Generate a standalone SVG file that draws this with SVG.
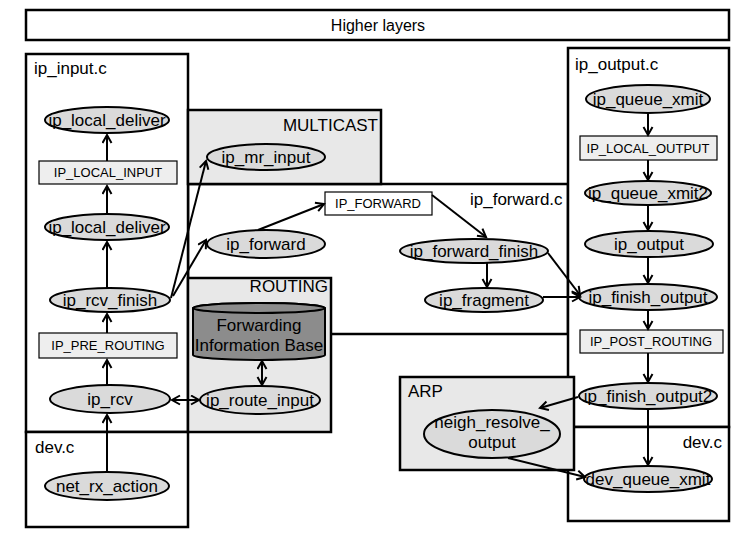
<svg xmlns="http://www.w3.org/2000/svg" width="756" height="534" viewBox="0 0 756 534">
<defs>
<marker id="arr" markerUnits="userSpaceOnUse" markerWidth="12" markerHeight="12" refX="9" refY="5.5" orient="auto-start-reverse">
<path d="M1,1 L9,5.5 L1,10" fill="none" stroke="#000" stroke-width="2"/>
</marker>
</defs>
<style>
text{font-family:"Liberation Sans",Arial,sans-serif;fill:#000}
.box{fill:#fff;stroke:#000;stroke-width:2.5}
.gbox{fill:#e8e8e8;stroke:#000;stroke-width:2.5}
.node ellipse{fill:#dadada;stroke:#000;stroke-width:2}
.node text{font-size:17px;text-anchor:middle}
.hook rect{fill:#eeeeee;stroke:#000;stroke-width:1.2}
.hook text{font-size:13px;text-anchor:middle}
.lbl{font-size:17px}
.edges path{fill:none;stroke:#000;stroke-width:2;marker-end:url(#arr)}
.edges path.both{marker-start:url(#arr)}
</style>
<g id="higher-layers">
<rect class="box" x="26" y="10" width="703" height="30"/>
<text x="378" y="31" font-size="16" text-anchor="middle">Higher layers</text>
</g>
<g id="ip_forward_c">
<rect class="box" x="188" y="184" width="380" height="150"/>
<text class="lbl" x="470" y="205">ip_forward.c</text>
</g>
<g id="ip_input_c">
<rect class="box" x="26" y="54" width="162" height="378"/>
<text class="lbl" x="34" y="74">ip_input.c</text>
</g>
<g id="dev_c_left">
<rect class="box" x="26" y="432" width="162" height="95"/>
<text class="lbl" x="35" y="453">dev.c</text>
</g>
<g id="multicast">
<rect class="gbox" x="188" y="110" width="193" height="74"/>
<text class="lbl" x="378" y="131" text-anchor="end">MULTICAST</text>
</g>
<g id="routing">
<rect class="gbox" x="188" y="278" width="143" height="154"/>
<text class="lbl" x="328" y="292" text-anchor="end">ROUTING</text>
</g>
<g id="ip_output_c">
<rect class="box" x="568" y="48" width="161" height="379"/>
<text class="lbl" x="575" y="70">ip_output.c</text>
</g>
<g id="dev_c_right">
<rect class="box" x="568" y="427" width="161" height="94"/>
<text class="lbl" x="722" y="448" text-anchor="end">dev.c</text>
</g>
<g id="arp">
<rect class="gbox" x="400" y="377" width="174" height="93"/>
<text class="lbl" x="408" y="397">ARP</text>
</g>

<g id="fib">
<path d="M193,308 A66,5 0 0 1 325,308 L325,355 A66,5 0 0 1 193,355 Z" fill="#8c8c8c" stroke="#000" stroke-width="2"/>
<ellipse cx="259" cy="308" rx="66" ry="5" fill="#8c8c8c" stroke="#000" stroke-width="2"/>
<text x="259" y="331" font-size="17" text-anchor="middle">Forwarding</text>
<text x="259" y="351" font-size="17" text-anchor="middle">Information Base</text>
</g>

<g id="ip_local_deliver_1" class="node"><ellipse cx="107" cy="120" rx="62" ry="13"/><text x="107" y="126">ip_local_deliver</text></g>
<g id="IP_LOCAL_INPUT" class="hook"><rect x="39" y="161" width="138" height="23"/><text x="108" y="177">IP_LOCAL_INPUT</text></g>
<g id="ip_local_deliver_2" class="node"><ellipse cx="107" cy="227" rx="62" ry="13"/><text x="107" y="233">ip_local_deliver</text></g>
<g id="ip_rcv_finish" class="node"><ellipse cx="110" cy="300" rx="60" ry="12"/><text x="110" y="306">ip_rcv_finish</text></g>
<g id="IP_PRE_ROUTING" class="hook"><rect x="39" y="333" width="138" height="25"/><text x="108" y="350">IP_PRE_ROUTING</text></g>
<g id="ip_rcv" class="node"><ellipse cx="110" cy="399" rx="60" ry="14"/><text x="110" y="405">ip_rcv</text></g>
<g id="net_rx_action" class="node"><ellipse cx="107" cy="486" rx="62" ry="14"/><text x="107" y="492">net_rx_action</text></g>
<g id="ip_mr_input" class="node"><ellipse cx="266" cy="157" rx="59" ry="13"/><text x="266" y="163">ip_mr_input</text></g>
<g id="ip_forward" class="node"><ellipse cx="266" cy="244" rx="59" ry="14"/><text x="266" y="250">ip_forward</text></g>
<g id="IP_FORWARD" class="hook"><rect x="325" y="192" width="107" height="23" fill="#fff" style="fill:#fff"/><text x="378" y="208">IP_FORWARD</text></g>
<g id="ip_forward_finish" class="node"><ellipse cx="474" cy="251" rx="74" ry="12"/><text x="474" y="257">ip_forward_finish</text></g>
<g id="ip_fragment" class="node"><ellipse cx="484" cy="300" rx="59" ry="12"/><text x="484" y="306">ip_fragment</text></g>
<g id="ip_route_input" class="node"><ellipse cx="260" cy="400" rx="60" ry="14"/><text x="260" y="406">ip_route_input</text></g>
<g id="ip_queue_xmit" class="node"><ellipse cx="648" cy="99" rx="62" ry="14"/><text x="648" y="105">ip_queue_xmit</text></g>
<g id="IP_LOCAL_OUTPUT" class="hook"><rect x="580" y="136" width="137" height="24"/><text x="648" y="153">IP_LOCAL_OUTPUT</text></g>
<g id="ip_queue_xmit2" class="node"><ellipse cx="648" cy="193" rx="63" ry="12"/><text x="648" y="199">ip_queue_xmit2</text></g>
<g id="ip_output" class="node"><ellipse cx="649" cy="244" rx="64" ry="13"/><text x="649" y="250">ip_output</text></g>
<g id="ip_finish_output" class="node"><ellipse cx="648" cy="297" rx="69" ry="13"/><text x="648" y="303">ip_finish_output</text></g>
<g id="IP_POST_ROUTING" class="hook"><rect x="580" y="330" width="143" height="23"/><text x="651" y="346">IP_POST_ROUTING</text></g>
<g id="ip_finish_output2" class="node"><ellipse cx="648" cy="396" rx="69" ry="13"/><text x="648" y="402">ip_finish_output2</text></g>
<g id="neigh_resolve_output" class="node"><ellipse cx="492" cy="434" rx="68" ry="24"/><text x="492" y="428">neigh_resolve_</text><text x="492" y="448">output</text></g>
<g id="dev_queue_xmit" class="node"><ellipse cx="648" cy="479" rx="64" ry="13"/><text x="648" y="485">dev_queue_xmit</text></g>

<g id="connectors" class="edges">
<path d="M107,214 L107,186"/>
<path d="M107,161 L107,135"/>
<path d="M107,288 L107,242"/>
<path d="M107,333 L107,314"/>
<path d="M107,385 L107,360"/>
<path d="M107,472 L107,415"/>
<path d="M171,298 L206,161"/>
<path d="M173,296 L206,240"/>
<path class="both" d="M172,400 L199,400"/>
<path class="both" d="M262,361 L262,385"/>
<path d="M258,230 L324,204"/>
<path d="M432,195 L486,237"/>
<path d="M487,263 L487,287"/>
<path d="M548,253 L580,295"/>
<path d="M543,297 L580,297"/>
<path d="M648,113 L648,135"/>
<path d="M648,160 L648,180"/>
<path d="M648,205 L648,230"/>
<path d="M648,257 L648,283"/>
<path d="M648,310 L648,329"/>
<path d="M648,353 L648,382"/>
<path d="M578,397 L540,408"/>
<path d="M648,409 L648,465"/>
<path d="M508,458 L585,477"/>
</g>
</svg>
